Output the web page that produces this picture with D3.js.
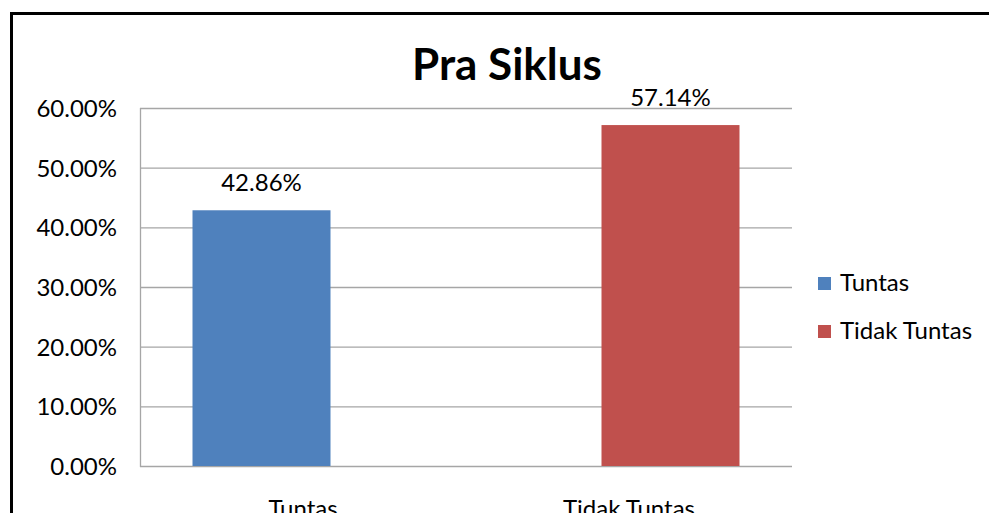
<!DOCTYPE html>
<html><head><meta charset="utf-8">
<script src="https://cdn.jsdelivr.net/npm/d3@7"></script>
<style>body{margin:0;background:#fff;}svg{display:block;}</style>
</head><body>
<svg id="c" width="989" height="513"></svg>
<script>
const title = "Pra Siklus";
const categories = ["Tuntas", "Tidak Tuntas"];
const seriesNames = ["Tuntas", "Tidak Tuntas"];
const tuntasValues = [0.4286, null];
const tidakTuntasValues = [null, 0.5714];
const yTicks = [0, 0.1, 0.2, 0.3, 0.4, 0.5, 0.6];
const colors = ["#4F81BD", "#C0504D"];

const series = [tuntasValues, tidakTuntasValues];
const font = "Lato, 'Open Sans', sans-serif";
const fs = 24;
const svg = d3.select("#c");

// outer frame
svg.append("rect").attr("x", 11.5).attr("y", 13.5).attr("width", 1000).attr("height", 600)
  .attr("fill", "none").attr("stroke", "#000").attr("stroke-width", 3);

const L = 140, R = 792, T = 108, B = 466;
const y = d3.scaleLinear().domain([0, 0.6]).range([B, T]);
const x0 = d3.scaleBand().domain(categories).range([L, R]).padding(0);
const bw = x0.bandwidth() * 0.4233;
const x1 = d3.scalePoint().domain(seriesNames).range([-x0.bandwidth() * 0.1273, x0.bandwidth() * 0.1273]);

// gridlines
svg.append("g").selectAll("line").data(yTicks).join("line")
  .attr("x1", L).attr("x2", R).attr("y1", d => y(d) + 0.5).attr("y2", d => y(d) + 0.5)
  .attr("stroke", "#a6a6a6").attr("stroke-width", 1.3);
svg.append("line").attr("x1", L + 0.5).attr("x2", L + 0.5).attr("y1", T).attr("y2", B + 1)
  .attr("stroke", "#a6a6a6").attr("stroke-width", 1.3);

// y labels
svg.append("g").selectAll("text").data(yTicks).join("text")
  .attr("x", 117).attr("y", d => y(d) + 9)
  .attr("text-anchor", "end").attr("font-family", font).attr("font-size", fs).attr("fill", "#000")
  .text(d => d3.format(".2%")(d));

// bars
series.forEach((vals, si) => {
  const g = svg.append("g");
  const data = categories.map((c, i) => ({c, v: vals[i]})).filter(d => d.v != null);
  g.selectAll("rect").data(data).join("rect")
    .attr("x", d => x0(d.c) + x0.bandwidth() / 2 + x1(seriesNames[si]) - bw / 2)
    .attr("width", bw)
    .attr("y", d => y(d.v)).attr("height", d => B - y(d.v))
    .attr("fill", colors[si]);
  g.selectAll("text").data(data).join("text")
    .attr("x", d => x0(d.c) + x0.bandwidth() / 2 + x1(seriesNames[si]))
    .attr("y", d => y(d.v) - 19)
    .attr("text-anchor", "middle").attr("font-family", font).attr("font-size", fs).attr("fill", "#000")
    .text(d => d3.format(".2%")(d.v));
});

// x labels
svg.append("g").selectAll("text").data(categories).join("text")
  .attr("x", d => x0(d) + x0.bandwidth() / 2).attr("y", 517)
  .attr("text-anchor", "middle").attr("font-family", font).attr("font-size", fs).attr("fill", "#000")
  .text(d => d);

// title
svg.append("text").attr("x", 507).attr("y", 80).attr("text-anchor", "middle")
  .attr("font-family", font).attr("font-weight", "bold").attr("font-size", 44).attr("fill", "#000")
  .text(title);

// legend
const lg = svg.append("g").selectAll("g").data(seriesNames).join("g")
  .attr("transform", (d, i) => `translate(818, ${277 + i * 48})`);
lg.append("rect").attr("width", 13).attr("height", 13).attr("fill", (d, i) => colors[i]);
lg.append("text").attr("x", 22).attr("y", 14).attr("font-family", font).attr("font-size", fs)
  .attr("fill", "#000").text(d => d);
</script>
</body></html>
